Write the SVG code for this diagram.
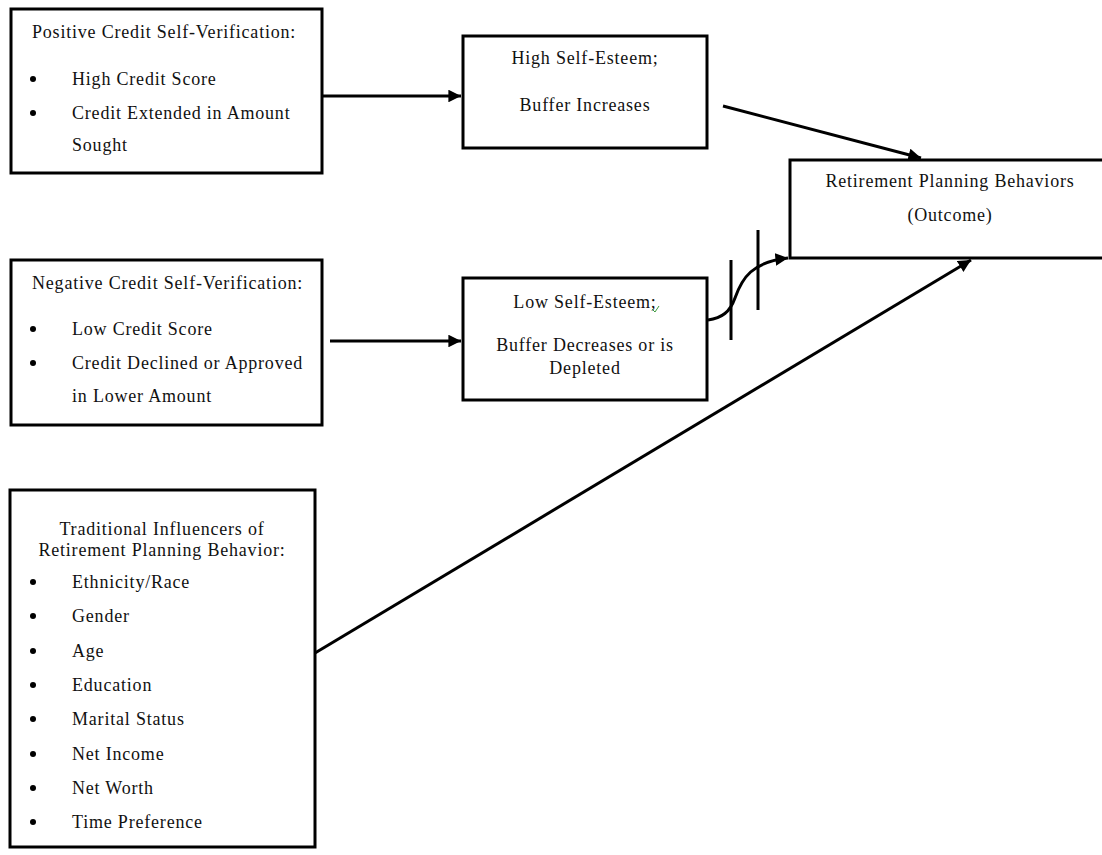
<svg xmlns="http://www.w3.org/2000/svg" width="1102" height="855" viewBox="0 0 1102 855">
<style>
.box{fill:#fff;stroke:#000;stroke-width:3}
text{font-family:"Liberation Serif","Times New Roman",serif;font-size:18px;letter-spacing:0.8px;fill:#111}
.c{text-anchor:middle}
.b{fill:#000}
.ln{fill:none;stroke:#000;stroke-width:3}
</style>
<defs>
<marker id="ah" viewBox="0 0 10 10" refX="10" refY="5" markerWidth="4.4" markerHeight="4.2" orient="auto" markerUnits="strokeWidth">
<path d="M0,0 L10,5 L0,10 z" fill="#000"/>
</marker>
</defs>
<rect width="1102" height="855" fill="#fff"/>
<g id="positive">
<rect class="box" x="11" y="9" width="311" height="164"/>
<text x="32" y="38">Positive Credit Self-Verification:</text>
<circle class="b" cx="33" cy="79" r="3"/>
<text x="72" y="85">High Credit Score</text>
<circle class="b" cx="33" cy="113" r="3"/>
<text x="72" y="119">Credit Extended in Amount</text>
<text x="72" y="151">Sought</text>
</g>
<g id="negative">
<rect class="box" x="11" y="260" width="311" height="165"/>
<text x="32" y="289">Negative Credit Self-Verification:</text>
<circle class="b" cx="33" cy="329" r="3"/>
<text x="72" y="335">Low Credit Score</text>
<circle class="b" cx="33" cy="363" r="3"/>
<text x="72" y="369">Credit Declined or Approved</text>
<text x="72" y="402">in Lower Amount</text>
</g>
<g id="traditional">
<rect class="box" x="10" y="490" width="305" height="357"/>
<text class="c" x="162" y="535">Traditional Influencers of</text>
<text class="c" x="162" y="556">Retirement Planning Behavior:</text>
<circle class="b" cx="33" cy="582" r="3"/>
<text x="72" y="588">Ethnicity/Race</text>
<circle class="b" cx="33" cy="616" r="3"/>
<text x="72" y="622">Gender</text>
<circle class="b" cx="33" cy="651" r="3"/>
<text x="72" y="657">Age</text>
<circle class="b" cx="33" cy="685" r="3"/>
<text x="72" y="691">Education</text>
<circle class="b" cx="33" cy="719" r="3"/>
<text x="72" y="725">Marital Status</text>
<circle class="b" cx="33" cy="754" r="3"/>
<text x="72" y="760">Net Income</text>
<circle class="b" cx="33" cy="788" r="3"/>
<text x="72" y="794">Net Worth</text>
<circle class="b" cx="33" cy="822" r="3"/>
<text x="72" y="828">Time Preference</text>
</g>
<g id="high">
<rect class="box" x="463" y="36" width="244" height="112"/>
<text class="c" x="585" y="64">High Self-Esteem;</text>
<text class="c" x="585" y="111">Buffer Increases</text>
</g>
<g id="low">
<rect class="box" x="463" y="278" width="244" height="122"/>
<text class="c" x="585" y="308">Low Self-Esteem;</text>
<path d="M652,309 L655,312 L659,306" fill="none" stroke="#3a9a3a" stroke-width="1"/>
<text class="c" x="585" y="351">Buffer Decreases or is</text>
<text class="c" x="585" y="374">Depleted</text>
</g>
<g id="outcome">
<rect class="box" x="790" y="160" width="322" height="98"/>
<text class="c" x="950" y="187">Retirement Planning Behaviors</text>
<text class="c" x="950" y="221">(Outcome)</text>
</g>
<g id="connectors">
<line class="ln" x1="322" y1="96" x2="461" y2="96" marker-end="url(#ah)"/>
<line class="ln" x1="330" y1="341" x2="461" y2="341" marker-end="url(#ah)"/>
<line class="ln" x1="723" y1="106" x2="921" y2="158" marker-end="url(#ah)"/>
<line class="ln" x1="315" y1="653" x2="971" y2="260" marker-end="url(#ah)"/>
<path class="ln" d="M708,320 C722,318 730,312 735,298 C742,278 752,262 788,258" marker-end="url(#ah)"/>
<line class="ln" x1="731" y1="260" x2="731" y2="340"/>
<line class="ln" x1="758" y1="230" x2="758" y2="310"/>
</g>
</svg>
